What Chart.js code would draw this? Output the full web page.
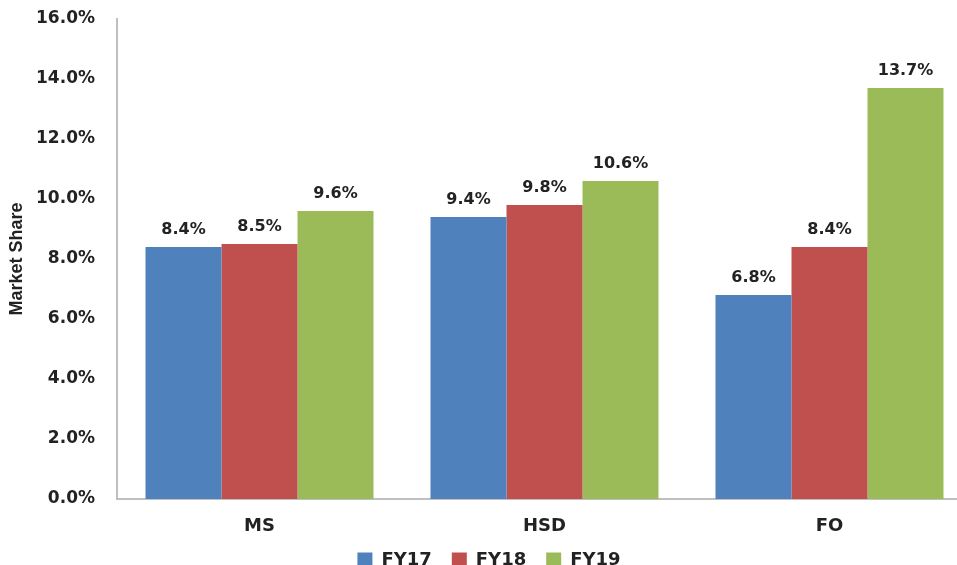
<!DOCTYPE html>
<html>
<head>
<meta charset="utf-8">
<script src="https://cdn.jsdelivr.net/npm/chart.js@4"></script>
<style>
  html, body { margin: 0; padding: 0; background: #fff; overflow: hidden; }
  #wrap { width: 972px; height: 579px; }
</style>
</head>
<body>
<div id="wrap"><canvas id="chart"></canvas></div>
<script>
const categories = ['MS', 'HSD', 'FO'];
const fy17 = [8.4, 9.4, 6.8];
const fy18 = [8.5, 9.8, 8.4];
const fy19 = [9.6, 10.6, 13.7];
const seriesNames = ['FY17', 'FY18', 'FY19'];

const BLUE = '#4F81BD';
const RED = '#C0504D';
const GREEN = '#9BBB59';
const TEXT = '#222222';
const FONT = "'DejaVu Sans', Verdana, sans-serif";

// value labels above each bar
const barLabels = {
    id: 'barLabels',
    afterDatasetsDraw(chart) {
        const { ctx } = chart;
        ctx.save();
        ctx.font = `bold 16px ${FONT}`;
        ctx.fillStyle = TEXT;
        ctx.textAlign = 'center';
        ctx.textBaseline = 'middle';
        chart.data.datasets.forEach((ds, i) => {
            chart.getDatasetMeta(i).data.forEach((bar, j) => {
                ctx.fillText(ds.data[j].toFixed(1) + '%', bar.x, bar.y - 17);
            });
        });
        ctx.restore();
    },
};

new Chart(document.getElementById('chart'), {
    type: 'bar',
    data: {
        labels: categories,
        datasets: [
            { label: seriesNames[0], data: fy17, backgroundColor: BLUE },
            { label: seriesNames[1], data: fy18, backgroundColor: RED },
            { label: seriesNames[2], data: fy19, backgroundColor: GREEN },
        ],
    },
    options: {
        responsive: true,
        maintainAspectRatio: false,
        animation: false,
        layout: { padding: { top: 19, left: 6, right: 0, bottom: 0 } },
        datasets: { bar: { categoryPercentage: 0.8, barPercentage: 1.0 } },
        plugins: {
            legend: {
                position: 'bottom',
                labels: {
                    font: { family: FONT, size: 18, weight: 'bold' },
                    color: TEXT,
                    boxWidth: 15,
                    boxHeight: 15,
                    padding: 20,
                },
            },
            tooltip: { enabled: false },
        },
        scales: {
            x: {
                grid: { display: false, drawTicks: false },
                border: { color: '#BFBFBF', width: 2 },
                ticks: {
                    font: { family: FONT, size: 18, weight: 'bold' },
                    color: TEXT,
                    padding: 17,
                },
                afterFit: (scale) => { scale.height = 32; },
            },
            y: {
                min: 0,
                max: 16,
                grid: { display: false, drawTicks: false },
                border: { color: '#BFBFBF', width: 2 },
                ticks: {
                    stepSize: 2,
                    font: { family: FONT, size: 17, weight: 'bold' },
                    color: TEXT,
                    padding: 22,
                    callback: (v) => v.toFixed(1) + '%',
                },
                title: {
                    display: true,
                    text: 'Market Share',
                    font: { family: "'Liberation Sans Narrow', 'Liberation Sans', sans-serif", size: 18, weight: 'bold' },
                    color: TEXT,
                    padding: 0,
                },
                afterFit: (scale) => {
                    scale.width = 111;
                    scale.paddingTop = 0;
                    scale.paddingBottom = 0;
                },
            },
        },
    },
    plugins: [barLabels],
});
</script>
</body>
</html>
